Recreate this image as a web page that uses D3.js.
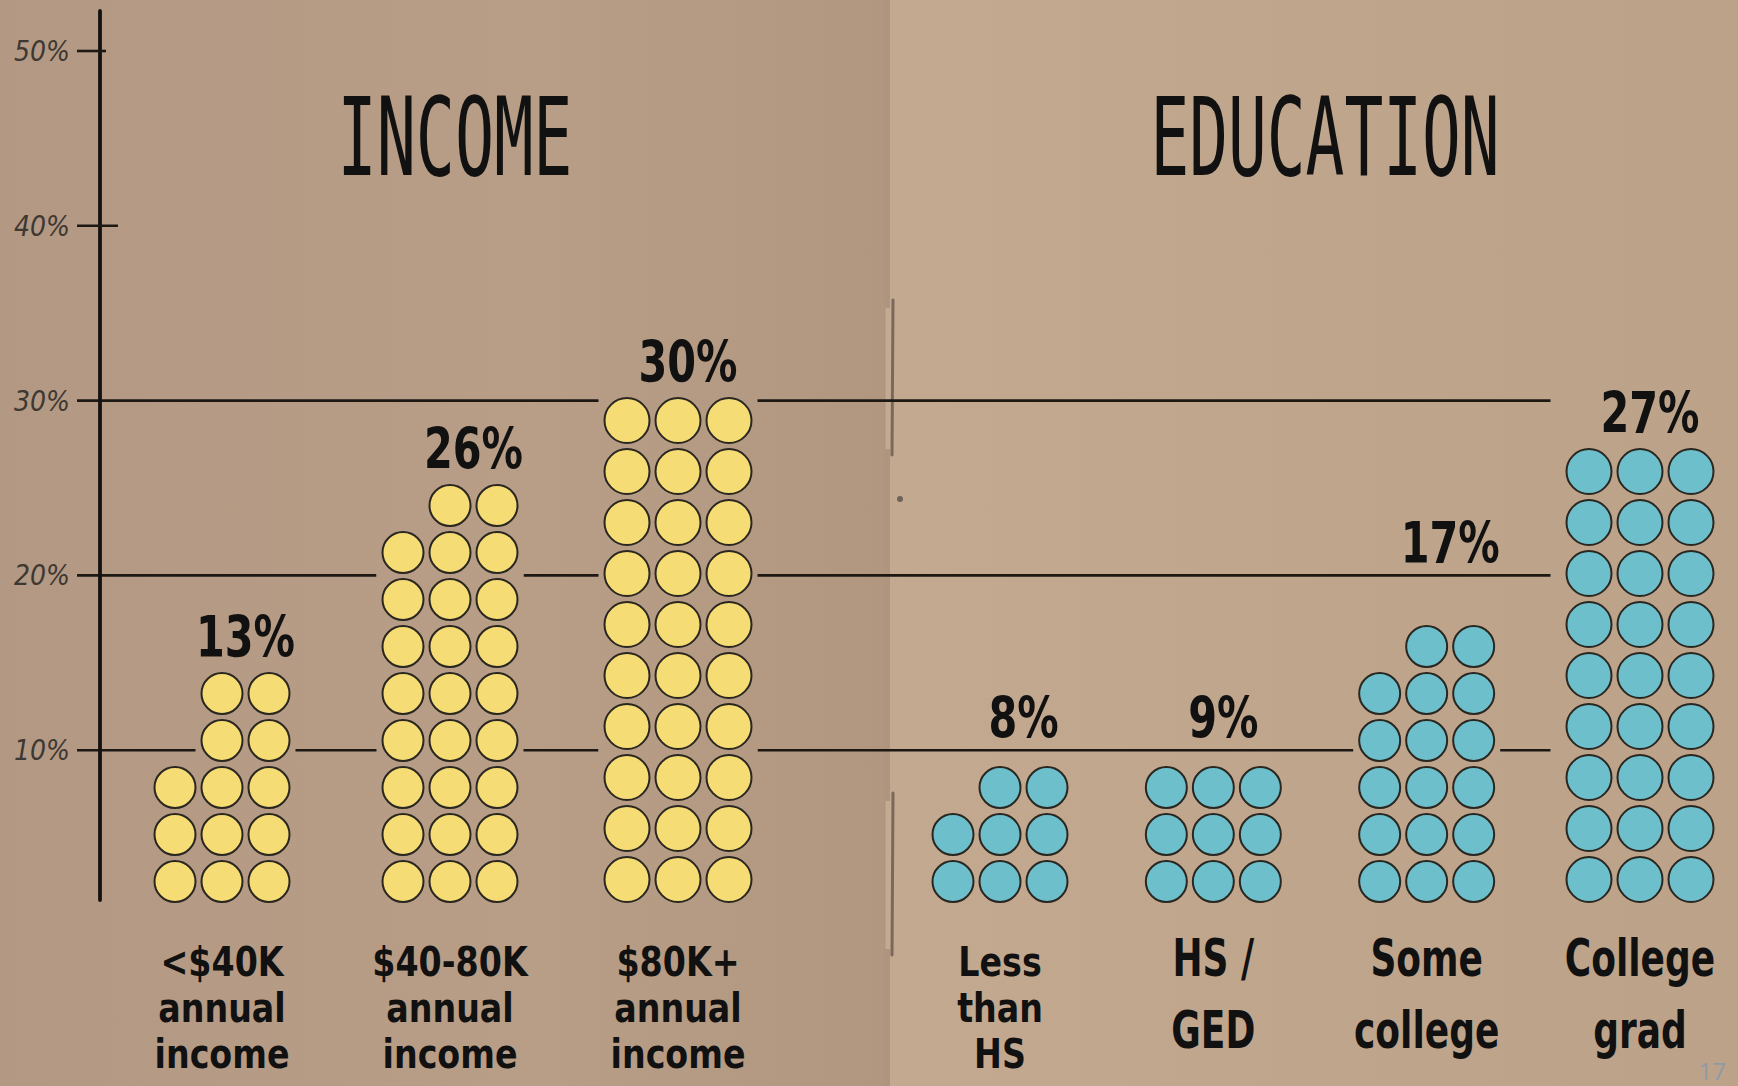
<!DOCTYPE html>
<html>
<head>
<meta charset="utf-8">
<script src="https://cdn.jsdelivr.net/npm/d3@7"></script>
<style>
html,body{margin:0;padding:0;background:#b9a08a;overflow:hidden;}
svg{display:block;}
</style>
</head>
<body>
<div id="chart"></div>
<script>
var W=1738,H=1086;

// data (one dot = 1%)
var incomeCats=["<$40K","$40-80K","$80K+"];
var incomeValues=[13,26,30];
var incomeLabels=[["<$40K","annual","income"],["$40-80K","annual","income"],["$80K+","annual","income"]];
var eduCats=["Less than HS","HS/GED","Some college","College grad"];
var eduValues=[8,9,17,27];
var eduLabels=[["Less","than","HS"],["HS /","GED"],["Some","college"],["College","grad"]];
var tickValues=[10,20,30,40,50];
var gridValues=[10,20,30];

var svg=d3.select("#chart")
	.append("svg")
	.attr("width",W)
	.attr("height",H);

var defs=svg.append("defs");
var gl=defs.append("linearGradient").attr("id","pageL");
gl.append("stop").attr("offset","0%").attr("stop-color","#b39983");
gl.append("stop").attr("offset","60%").attr("stop-color","#b89e87");
gl.append("stop").attr("offset","100%").attr("stop-color","#b19780");
var gr=defs.append("linearGradient").attr("id","pageR");
gr.append("stop").attr("offset","0%").attr("stop-color","#c4a991");
gr.append("stop").attr("offset","50%").attr("stop-color","#c0a58d");
gr.append("stop").attr("offset","100%").attr("stop-color","#bda28a");

// paper, two pages and the fold
svg.append("rect").attr("x",0).attr("y",0).attr("width",890).attr("height",H).attr("fill","url(#pageL)");
svg.append("rect").attr("x",890).attr("y",0).attr("width",W-890).attr("height",H).attr("fill","url(#pageR)");
svg.append("rect").attr("x",884).attr("y",0).attr("width",6).attr("height",H).attr("fill","#ae947e").attr("opacity",0.6);
[[300,455],[793,955]].forEach(function(m){
	svg.append("line").attr("x1",888).attr("x2",888).attr("y1",m[0]+8).attr("y2",m[1]-6)
		.attr("stroke","#cdb39b").attr("stroke-width",5).attr("opacity",0.7);
	svg.append("line").attr("x1",893).attr("x2",892).attr("y1",m[0]).attr("y2",m[1])
		.attr("stroke","#7a685a").attr("stroke-width",3).attr("stroke-linecap","round");
});
svg.append("circle").attr("cx",900).attr("cy",499).attr("r",3).attr("fill","#6f6258");

var y=d3.scaleLinear().domain([0,50]).range([925,51]);
var base=902;

var groups=[
	{title:"INCOME",titleX:455,titleLen:235,cats:incomeCats,values:incomeValues,labels:incomeLabels,
	 fill:"#f6dc74",x:d3.scalePoint().domain(incomeCats).range([222,678])},
	{title:"EDUCATION",titleX:1325,titleLen:349,cats:eduCats,values:eduValues,labels:eduLabels,
	 fill:"#6cbfcb",x:d3.scalePoint().domain(eduCats).range([1000,1640])}
];

// build the dots: right two columns are full, the left one takes what is left
var dots=[],valueLabels=[],maskBoxes=[];
groups.forEach(function(g){
	var gmax=d3.max(g.values);
	g.cats.forEach(function(c,i){
		var v=g.values[i];
		var big=(v===gmax);
		var step=big?51:47, r=big?22.5:20.5;
		var rows=Math.ceil(v/3);
		var counts=[v-2*rows,rows,rows];
		var colDots=[];
		counts.forEach(function(n,col){
			for(var k=0;k<n;k++){
				colDots.push({cx:g.x(c)+(col-1)*step,cy:base-r-k*step,r:r,row:k,fill:g.fill});
			}
		});
		dots=dots.concat(colDots);
		var top=colDots.filter(function(d){return d.row===rows-1;});
		var lx=d3.mean(top,function(d){return d.cx;});
		if(top.length===3) lx+=10;
		var ly=base-2*r-(rows-1)*step-16;
		var hit=gridValues.filter(function(gv){return y(gv)>ly-44&&y(gv)<ly+4;});
		var masked=false;
		if(hit.length){
			if(hit[0]<=gmax) ly=y(hit[0])-12;
			else masked=true;
		}
		valueLabels.push({x:lx,y:ly,text:v+"%"});
		if(masked){
			maskBoxes.push({x:g.x(c)-step-r-16,y:ly-46,w:2*(step+r+16),h:base-ly+46});
		}
	});
});
dots.forEach(function(d){
	maskBoxes.push({x:d.cx-d.r-6,y:d.cy-d.r-6,w:2*d.r+12,h:2*d.r+12});
});

var mask=defs.append("mask").attr("id","gridMask").attr("maskUnits","userSpaceOnUse")
	.attr("x",0).attr("y",0).attr("width",W).attr("height",H);
mask.append("rect").attr("width",W).attr("height",H).attr("fill","white");
mask.selectAll("rect.hole").data(maskBoxes).enter().append("rect")
	.attr("class","hole")
	.attr("x",function(d){return d.x;})
	.attr("y",function(d){return d.y;})
	.attr("width",function(d){return d.w;})
	.attr("height",function(d){return d.h;})
	.attr("fill","black");

// gridlines
svg.append("g").attr("mask","url(#gridMask)")
	.selectAll("line").data(gridValues).enter().append("line")
	.attr("x1",77).attr("x2",1720)
	.attr("y1",function(d){return y(d);})
	.attr("y2",function(d){return y(d);})
	.attr("stroke","#1c1915").attr("stroke-width",2.6);

// axis
svg.append("line").attr("x1",100).attr("x2",100).attr("y1",11).attr("y2",900)
	.attr("stroke","#141210").attr("stroke-width",3.8).attr("stroke-linecap","round");
svg.selectAll("line.tick").data(tickValues.filter(function(d){return gridValues.indexOf(d)<0;}))
	.enter().append("line").attr("class","tick")
	.attr("x1",77).attr("x2",function(d){return d===50?106:118;})
	.attr("y1",function(d){return y(d);})
	.attr("y2",function(d){return y(d);})
	.attr("stroke","#1c1915").attr("stroke-width",2.6);
svg.selectAll("text.tickLabel").data(tickValues).enter().append("text")
	.attr("class","tickLabel")
	.attr("x",14)
	.attr("y",function(d){return y(d);})
	.attr("dy","0.36em")
	.attr("fill","#3e3832")
	.attr("font-family","DejaVu Sans Condensed, DejaVu Sans, sans-serif")
	.attr("font-style","italic")
	.attr("font-size",28)
	.text(function(d){return d+"%";});

// titles
groups.forEach(function(g){
	svg.append("text")
		.attr("x",g.titleX-g.titleLen/2)
		.attr("y",175)
		.attr("fill","#111")
		.attr("font-family","DejaVu Sans Mono, monospace")
		.attr("font-size",108)
		.attr("textLength",g.titleLen)
		.attr("lengthAdjust","spacingAndGlyphs")
		.text(g.title);
});

// dots
svg.selectAll("circle.dot").data(dots).enter().append("circle")
	.attr("class","dot")
	.attr("cx",function(d){return d.cx;})
	.attr("cy",function(d){return d.cy;})
	.attr("r",function(d){return d.r;})
	.attr("fill",function(d){return d.fill;})
	.attr("stroke","#2a2620")
	.attr("stroke-width",2);

// value labels
svg.selectAll("text.val").data(valueLabels).enter().append("text")
	.attr("class","val")
	.attr("transform",function(d){return "translate("+d.x+","+d.y+") scale(1,1.25)";})
	.attr("text-anchor","middle")
	.attr("fill","#111")
	.attr("font-family","DejaVu Sans Condensed, DejaVu Sans, sans-serif")
	.attr("font-weight","bold")
	.attr("font-size",46)
	.text(function(d){return d.text;});

// category labels
groups.forEach(function(g){
	g.cats.forEach(function(c,i){
		var lines=g.labels[i];
		var three=lines.length===3;
		var lh=three?46:72;
		lines.forEach(function(t,j){
			svg.append("text")
				.attr("transform","translate("+g.x(c)+","+(976+j*lh)+") scale(1,"+(three?1.1:1.3)+")")
				.attr("text-anchor","middle")
				.attr("fill","#111")
				.attr("font-family","DejaVu Sans Condensed, DejaVu Sans, sans-serif")
				.attr("font-weight","bold")
				.attr("font-size",three?37:40)
				.text(t);
		});
	});
});

svg.append("text").attr("x",1726).attr("y",1080).attr("text-anchor","end")
	.attr("fill","#8e9ba6").attr("font-family","Open Sans, sans-serif").attr("font-size",24)
	.text("17");
</script>
</body>
</html>
